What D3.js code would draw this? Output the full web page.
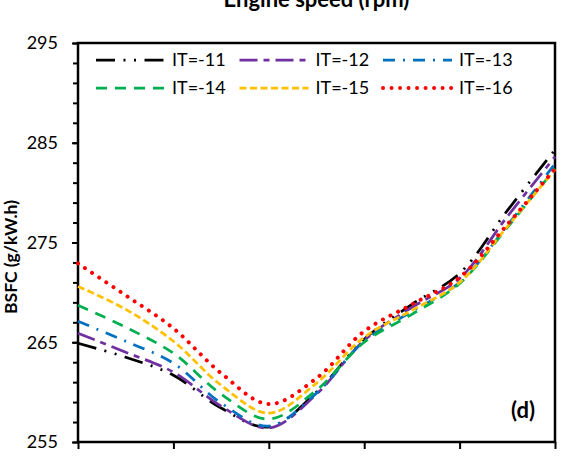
<!DOCTYPE html>
<html>
<head>
<meta charset="utf-8">
<script src="https://cdn.jsdelivr.net/npm/d3@7"></script>
<style>
  body { margin: 0; background: #fff; }
  svg { display: block; font-family: Lato, "Open Sans", sans-serif; }
</style>
</head>
<body>
<svg id="chart" width="570" height="461"></svg>
<script>
// engine speed (rpm), x axis labels are cut off in the picture
const speeds = [1000, 1250, 1500, 1750, 2000, 2250, 2500, 2750, 3000, 3250, 3500];
const seriesNames = ["IT=-11", "IT=-12", "IT=-13", "IT=-14", "IT=-15", "IT=-16"];
const it11 = [264.9, 263.5, 261.7, 258.4, 256.5, 260.0, 265.3, 268.8, 271.9, 278.2, 284.3];
const it12 = [265.9, 264.0, 262.0, 258.6, 256.4, 259.8, 265.2, 268.5, 271.4, 277.6, 283.6];
const it13 = [267.1, 265.1, 262.9, 258.9, 256.6, 259.9, 265.1, 268.1, 271.0, 276.7, 282.9];
const it14 = [268.7, 266.5, 263.9, 259.8, 257.3, 260.2, 265.0, 267.8, 270.9, 276.5, 282.4];
const it15 = [270.6, 268.3, 265.1, 260.7, 257.9, 260.9, 265.5, 268.2, 271.0, 276.6, 282.3];
const it16 = [272.9, 269.7, 266.4, 261.9, 258.8, 261.4, 266.1, 268.8, 271.5, 276.8, 282.4];
const yTicks = [255, 265, 275, 285, 295];

const allValues = [it11, it12, it13, it14, it15, it16];

// line look per series (Excel-like dash styles)
const styles = [
  {color: "#000000", dash: "19,8.5,2,8.5,2,8.5", width: 2.75, cap: "butt"},
  {color: "#7030A0", dash: "18,6,6,6", width: 2.75, cap: "butt"},
  {color: "#0070C0", dash: "12,8,2,8", width: 2.75, cap: "butt"},
  {color: "#00B050", dash: "11,8", width: 2.75, cap: "butt"},
  {color: "#FFC000", dash: "7,3.5", width: 2.75, cap: "butt"},
  {color: "#FF0000", dash: "0.01,8.5", width: 4, cap: "round"}
];

let layout = {"left": 78, "right": 555, "top": 43, "bottom": 442};

const svg = d3.select("#chart");

const xScale = d3.scaleLinear()
  .domain([1000, 3500])
  .range([layout.left, layout.right]);

const yScale = d3.scaleLinear()
  .domain([255, 295])
  .range([layout.bottom, layout.top]);

// title (top, partly cut off like the source picture)
svg.append("text")
  .attr("x", (layout.left + layout.right) / 2)
  .attr("y", 7)
  .attr("text-anchor", "middle")
  .attr("font-size", 22)
  .attr("font-weight", "bold")
  .text("Engine speed (rpm)");

// y axis title
svg.append("text")
  .attr("transform", `translate(17, 257) rotate(-90)`)
  .attr("text-anchor", "middle")
  .attr("font-size", 17.5)
  .attr("font-weight", "bold")
  .text("BSFC (g/kW.h)");

// minor y ticks
svg.append("g")
  .attr("transform", `translate(${layout.left}, 0)`)
  .call(d3.axisLeft(yScale).tickValues(d3.range(255, 296, 2)).tickSize(5).tickFormat(""))
  .call(g => g.select(".domain").remove())
  .call(g => g.selectAll("line").attr("stroke-width", 2));

// major y ticks + labels
svg.append("g")
  .attr("transform", `translate(${layout.left}, 0)`)
  .call(d3.axisLeft(yScale).tickValues(yTicks).tickSize(6).tickPadding(14))
  .call(g => g.select(".domain").remove())
  .call(g => g.selectAll("line").attr("stroke-width", 2))
  .call(g => g.selectAll("text").attr("font-size", 18).attr("fill", "#000")
    .attr("font-family", "Lato, sans-serif"));

// x ticks (labels are outside the picture)
svg.append("g")
  .attr("transform", `translate(0, ${layout.bottom})`)
  .call(d3.axisBottom(xScale).tickValues(d3.range(1000, 3501, 500)).tickSize(7).tickFormat(""))
  .call(g => g.select(".domain").remove())
  .call(g => g.selectAll("line").attr("stroke-width", 2));

// frame
svg.append("rect")
  .attr("x", layout.left)
  .attr("y", layout.top)
  .attr("width", layout.right - layout.left)
  .attr("height", layout.bottom - layout.top)
  .attr("fill", "none")
  .attr("stroke", "#000")
  .attr("stroke-width", 2.5);

const line = d3.line()
  .x((d, i) => xScale(speeds[i]))
  .y(d => yScale(d))
  .curve(d3.curveCatmullRom.alpha(0.5));

svg.append("g").selectAll("path")
  .data(allValues)
  .join("path")
  .attr("d", d => line(d))
  .attr("fill", "none")
  .attr("stroke", (d, i) => styles[i].color)
  .attr("stroke-width", (d, i) => styles[i].width)
  .attr("stroke-dasharray", (d, i) => styles[i].dash)
  .attr("stroke-linecap", (d, i) => styles[i].cap);

// legend: 3 columns, 2 rows
const legend = svg.append("g").selectAll("g")
  .data(seriesNames)
  .join("g")
  .attr("transform", (d, i) => `translate(${96 + (i % 3) * 143.5}, ${60 + Math.floor(i / 3) * 28})`);

legend.append("line")
  .attr("x1", 0).attr("x2", 69)
  .attr("y1", 0).attr("y2", 0)
  .attr("stroke", (d, i) => styles[i].color)
  .attr("stroke-width", (d, i) => styles[i].width)
  .attr("stroke-dasharray", (d, i) => styles[i].dash)
  .attr("stroke-linecap", (d, i) => styles[i].cap);

legend.append("text")
  .attr("x", 76)
  .attr("y", 0)
  .attr("dy", "0.35em")
  .attr("font-size", 18)
  .text(d => d);

// panel label
svg.append("text")
  .attr("x", 535)
  .attr("y", 418)
  .attr("text-anchor", "end")
  .attr("font-size", 22)
  .attr("font-weight", "bold")
  .text("(d)");
</script>
</body>
</html>
